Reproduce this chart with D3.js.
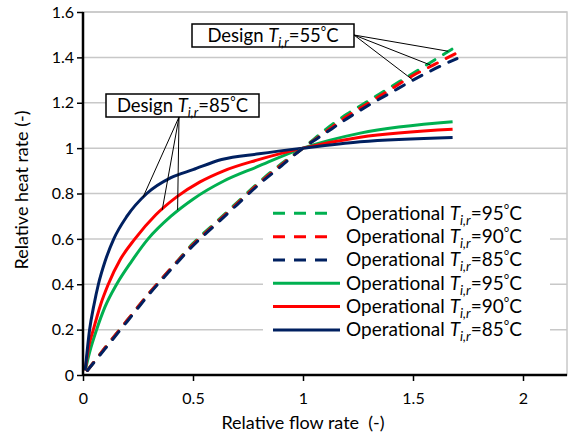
<!DOCTYPE html>
<html>
<head>
<meta charset="utf-8">
<script src="https://cdn.jsdelivr.net/npm/d3@7"></script>
<style>
  body { margin: 0; background: #fff; }
  svg { display: block; font-family: Lato, "Liberation Sans", sans-serif; }
  text { white-space: pre; }
</style>
</head>
<body>
<svg id="chart" width="569" height="441"></svg>
<script>
// dashed: design return temperature 55C, solid: design 85C
var dashX = [0.02, 0.1, 0.2, 0.3, 0.4, 0.5, 0.6, 0.7, 0.8, 0.9, 1.0, 1.1, 1.2, 1.3, 1.4, 1.5, 1.6, 1.7];
var dash95 = [0.02, 0.12, 0.24, 0.36, 0.47, 0.58, 0.67, 0.76, 0.85, 0.93, 1.0, 1.08, 1.15, 1.21, 1.27, 1.33, 1.39, 1.45];
var dash90 = [0.02, 0.12, 0.24, 0.36, 0.47, 0.575, 0.665, 0.755, 0.845, 0.925, 1.0, 1.07, 1.14, 1.2, 1.26, 1.32, 1.37, 1.42];
var dash85 = [0.02, 0.115, 0.235, 0.355, 0.465, 0.57, 0.66, 0.75, 0.84, 0.92, 1.0, 1.065, 1.13, 1.19, 1.245, 1.3, 1.35, 1.395];

var solid95X = [0.01, 0.03, 0.062, 0.1, 0.153, 0.22, 0.296, 0.4, 0.5, 0.64, 0.79, 1.0, 1.26, 1.68];
var solid95 = [0.02, 0.1, 0.2, 0.3, 0.4, 0.5, 0.6, 0.7, 0.775, 0.855, 0.917, 1.0, 1.066, 1.116];
var solid90X = [0.01, 0.025, 0.047, 0.08, 0.115, 0.17, 0.236, 0.33, 0.426, 0.53, 0.64, 0.79, 1.0, 1.26, 1.68];
var solid90 = [0.02, 0.12, 0.2, 0.31, 0.4, 0.51, 0.6, 0.705, 0.785, 0.85, 0.9, 0.947, 1.0, 1.048, 1.083];
var solid85X = [0.01, 0.03, 0.05, 0.07, 0.1, 0.14, 0.2, 0.29, 0.4, 0.5, 0.63, 0.8, 1.0, 1.26, 1.68];
var solid85 = [0.02, 0.2, 0.31, 0.4, 0.5, 0.6, 0.7, 0.8, 0.87, 0.905, 0.95, 0.975, 1.0, 1.028, 1.047];

var xTicks = [0, 0.5, 1, 1.5, 2];
var yTicks = [0, 0.2, 0.4, 0.6, 0.8, 1, 1.2, 1.4, 1.6];
var legendTemps = ["95", "90", "85", "95", "90", "85"];

// callout targets (data coords)
var call85 = [[0.273, 0.784], [0.36, 0.727], [0.43, 0.727]];
var call55 = [[1.66, 1.427], [1.58, 1.366], [1.5, 1.3]];

var green = "#00b050", red = "#ff0000", navy = "#002060";

var svg = d3.select("#chart");
var x = d3.scaleLinear().domain([0, 2.2]).range([83, 567]);
var y = d3.scaleLinear().domain([0, 1.6]).range([375, 12]);

// plot area border + grid
svg.append("rect").attr("x", 83).attr("y", 12).attr("width", 484).attr("height", 363)
  .attr("fill", "none").attr("stroke", "#c8c8c8").attr("stroke-width", 1.5);
svg.selectAll(".grid").data(yTicks.slice(1)).enter().append("line")
  .attr("x1", 83).attr("x2", 567)
  .attr("y1", function(d) { return y(d); }).attr("y2", function(d) { return y(d); })
  .attr("stroke", "#c8c8c8").attr("stroke-width", 1.5);

var line = d3.line()
  .x(function(d) { return x(d[0]); })
  .y(function(d) { return y(d[1]); })
  .curve(d3.curveMonotoneX);

function pts(xs, ys) { return xs.map(function(v, i) { return [v, ys[i]]; }); }

var series = [
  { pts: pts(solid95X, solid95), color: green, dash: null },
  { pts: pts(solid90X, solid90), color: red, dash: null },
  { pts: pts(solid85X, solid85), color: navy, dash: null },
  { pts: pts(dashX, dash95), color: green, dash: "10,10" },
  { pts: pts(dashX, dash90), color: red, dash: "10,10" },
  { pts: pts(dashX, dash85), color: navy, dash: "10,10" }
];

svg.selectAll(".series").data(series).enter().append("path")
  .attr("d", function(d) { return line(d.pts); })
  .attr("fill", "none")
  .attr("stroke", function(d) { return d.color; })
  .attr("stroke-width", 3)
  .attr("stroke-linecap", function(d) { return d.dash ? "round" : "butt"; })
  .attr("stroke-dasharray", function(d) { return d.dash; });

// axes
var yAxis = svg.append("g").attr("transform", "translate(83,0)")
  .call(d3.axisLeft(y).tickValues(yTicks).tickSize(6).tickPadding(3).tickFormat(d3.format("")));
var xAxis = svg.append("g").attr("transform", "translate(0,375)")
  .call(d3.axisBottom(x).tickValues(xTicks).tickSize(6).tickPadding(12).tickFormat(d3.format("")));
[xAxis, yAxis].forEach(function(a) {
  a.select(".domain").attr("stroke", "#000").attr("stroke-width", 2.5);
  a.selectAll(".tick line").attr("stroke", "#000").attr("stroke-width", 1.5);
  a.selectAll("text").attr("font-size", 16).attr("fill", "#000").attr("font-family", "Lato, sans-serif");
});
xAxis.select(".domain").attr("d", "M83,0H567");
yAxis.select(".domain").attr("d", "M0,375V12");

svg.append("text").attr("x", 303).attr("y", 429).attr("text-anchor", "middle")
  .attr("font-size", 18).text("Relative flow rate  (-)");
svg.append("text").attr("transform", "translate(28,190) rotate(-90)").attr("text-anchor", "middle")
  .attr("font-size", 18).text("Relative heat rate (-)");

// T_i,r label helper
function tLabel(sel, prefix, temp) {
  sel.append("tspan").text(prefix);
  sel.append("tspan").attr("font-style", "italic").text("T");
  sel.append("tspan").attr("font-style", "italic").attr("font-size", "0.7em").attr("dy", 5).text("i,r");
  sel.append("tspan").attr("dy", -5).text("=" + temp);
  sel.append("tspan").attr("font-size", "0.7em").attr("dy", -6).text("\u00b0");
  sel.append("tspan").attr("dy", 6).text("C");
}

// legend
var legend = svg.append("g");
legend.append("rect").attr("x", 263).attr("y", 199).attr("width", 287).attr("height", 146).attr("fill", "#fff");
var legendSeries = [series[3], series[4], series[5], series[0], series[1], series[2]];
legendSeries.forEach(function(s, i) {
  var ly = 213.3 + i * 23.33;
  legend.append("line").attr("x1", 273).attr("x2", s.dash ? 328 : 340)
    .attr("y1", ly).attr("y2", ly)
    .attr("stroke", s.color).attr("stroke-width", 3)
    .attr("stroke-dasharray", s.dash ? "12,9" : null);
  var t = legend.append("text").attr("x", 346).attr("y", ly + 6.5).attr("font-size", 19);
  tLabel(t, "Operational ", legendTemps[i]);
});

// callouts
function callout(bx, by, bw, bh, ax, ay, targets, temp) {
  targets.forEach(function(p) {
    svg.append("line").attr("x1", ax).attr("y1", ay)
      .attr("x2", x(p[0])).attr("y2", y(p[1]))
      .attr("stroke", "#000").attr("stroke-width", 1);
  });
  svg.append("rect").attr("x", bx).attr("y", by).attr("width", bw).attr("height", bh)
    .attr("fill", "#fff").attr("stroke", "#000").attr("stroke-width", 1.5);
  var t = svg.append("text").attr("x", bx + bw / 2).attr("y", by + 17.5).attr("text-anchor", "middle")
    .attr("font-size", 18.5);
  tLabel(t, "Design ", temp);
}
callout(106, 94, 153, 23, 179, 117, call85, "85");
callout(192, 24, 162, 23, 354, 35, call55, "55");
</script>
</body>
</html>
